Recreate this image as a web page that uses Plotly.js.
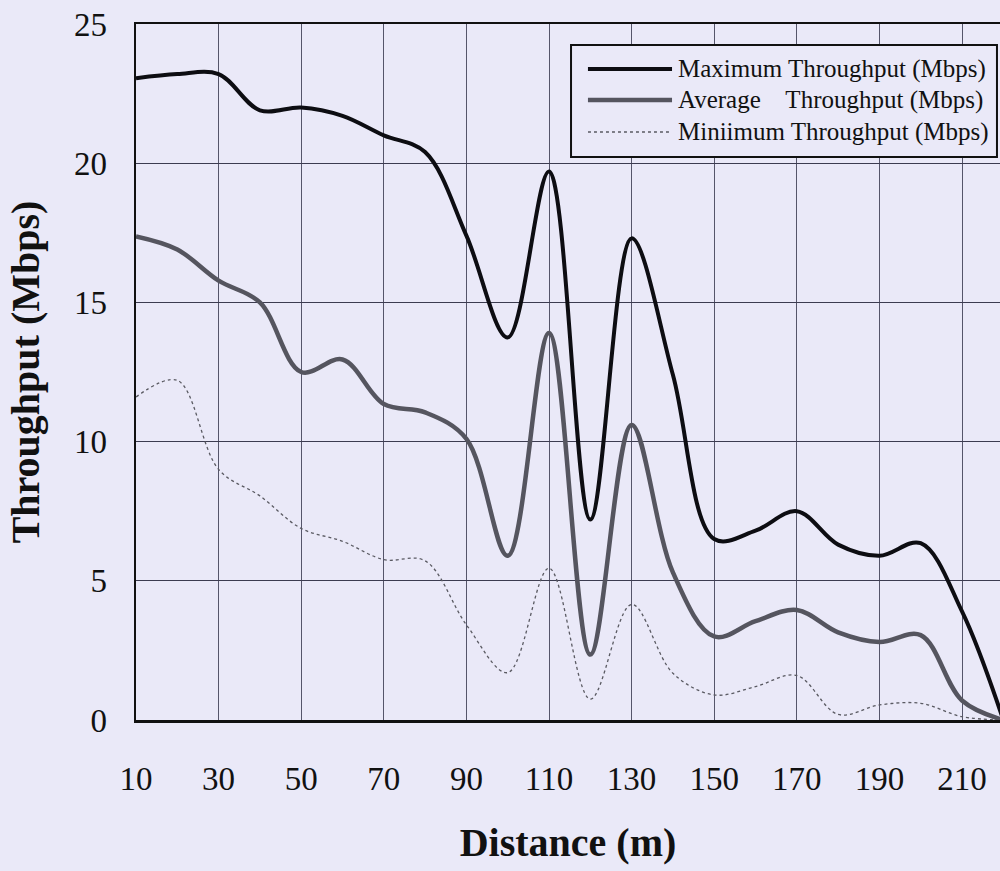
<!DOCTYPE html>
<html>
<head>
<meta charset="utf-8">
<script src="https://cdn.plot.ly/plotly-3.0.1.min.js"></script>
<style>
  html, body { margin: 0; padding: 0; background: #EAE9F8; }
  #chart { width: 1000px; height: 871px; }
</style>
</head>
<body>
<div id="chart"></div>
<script>
// ---- data ----
const distance = [10, 20, 30, 40, 50, 60, 70, 80, 90, 100, 110, 120, 130, 140, 150, 160, 170, 180, 190, 200, 210, 220];
const maxThroughput = [23.05, 23.2, 23.2, 21.9, 22.0, 21.7, 21.0, 20.4, 17.4, 13.74, 19.7, 7.2, 17.3, 12.4, 6.5, 6.8, 7.5, 6.3, 5.9, 6.35, 3.9, 0];
const avgThroughput = [17.37, 16.9, 15.78, 15.0, 12.5, 12.95, 11.35, 11.05, 10.1, 5.9, 13.9, 2.35, 10.6, 5.3, 3.0, 3.55, 3.95, 3.15, 2.8, 3.05, 0.7, 0];
const minThroughput = [11.6, 12.2, 9.0, 8.05, 6.88, 6.42, 5.76, 5.72, 3.42, 1.7, 5.45, 0.75, 4.15, 1.68, 0.9, 1.2, 1.6, 0.2, 0.54, 0.6, 0.12, 0];
const seriesNames = ["Maximum Throughput (Mbps)", "Average\u00a0\u00a0\u00a0 Throughput (Mbps)", "Miniimum Throughput (Mbps)"];
const xTickVals = [10, 30, 50, 70, 90, 110, 130, 150, 170, 190, 210];
const yTickVals = [0, 5, 10, 15, 20, 25];

// ---- styles ----
const serif = "Liberation Serif, Times New Roman, serif";
const lineStyles = [
  {color: "#0d0d12", width: 4, dash: "solid"},
  {color: "#55555f", width: 4.5, dash: "solid"},
  {color: "#5a5a62", width: 1.3, dash: "dot"}
];
const seriesValues = [maxThroughput, avgThroughput, minThroughput];

const traces = seriesValues.map((vals, i) => ({
  x: distance,
  y: vals,
  type: "scatter",
  mode: "lines",
  name: seriesNames[i],
  line: {shape: "spline", smoothing: 1, color: lineStyles[i].color, width: lineStyles[i].width, dash: lineStyles[i].dash},
  showlegend: false,
  hoverinfo: "x+y"
}));

// custom legend (long line samples as in reference)
const legX0 = 0.5035, legX1 = 0.9965, legY0 = 0.8089, legY1 = 0.9698;
const rowY = [0.9353, 0.8908, 0.8448];
const sampleX0 = 0.5231, sampleX1 = 0.6204, textX = 0.6250;

const shapes = [{
  type: "rect", xref: "paper", yref: "paper",
  x0: legX0, x1: legX1, y0: legY0, y1: legY1,
  line: {color: "#111", width: 2}, fillcolor: "#EAE9F8", layer: "above"
}];
const annotations = [];
seriesNames.forEach((nm, i) => {
  shapes.push({
    type: "line", xref: "paper", yref: "paper",
    x0: sampleX0, x1: sampleX1, y0: rowY[i], y1: rowY[i],
    line: {color: lineStyles[i].color, width: lineStyles[i].width, dash: lineStyles[i].dash},
    layer: "above"
  });
  annotations.push({
    xref: "paper", yref: "paper", x: textX, y: rowY[i],
    xanchor: "left", yanchor: "middle", showarrow: false,
    text: nm, font: {family: serif, size: 25, color: "#111"}
  });
});

const layout = {
  width: 1000, height: 871,
  margin: {l: 136, r: 0, t: 24, b: 151, pad: 0},
  paper_bgcolor: "#EAE9F8",
  plot_bgcolor: "#EAE9F8",
  font: {family: serif, color: "#111"},
  showlegend: false,
  xaxis: {
    range: [10, 219.2],
    tickmode: "array", tickvals: xTickVals,
    ticks: "", ticklabelstandoff: 28,
    tickfont: {family: serif, size: 33, color: "#111"},
    showgrid: true, gridcolor: "#55556a", gridwidth: 1,
    showline: true, linecolor: "#111", linewidth: 2.5, mirror: true,
    zeroline: false,
    title: {text: "<b>Distance (m)</b>", font: {family: serif, size: 40, color: "#111"}, standoff: 32}
  },
  yaxis: {
    range: [0, 25],
    tickmode: "array", tickvals: yTickVals,
    ticks: "", ticklabelstandoff: 20,
    tickfont: {family: serif, size: 33, color: "#111"},
    showgrid: true, gridcolor: "#3c3c50", gridwidth: 1.3,
    showline: true, linecolor: "#111", linewidth: 2.5,
    zeroline: false,
    title: {text: "<b>Throughput (Mbps)</b>", font: {family: serif, size: 40, color: "#111"}, standoff: 22}
  },
  shapes: shapes,
  annotations: annotations
};

Plotly.newPlot("chart", traces, layout, {staticPlot: true, displayModeBar: false});
</script>
</body>
</html>
